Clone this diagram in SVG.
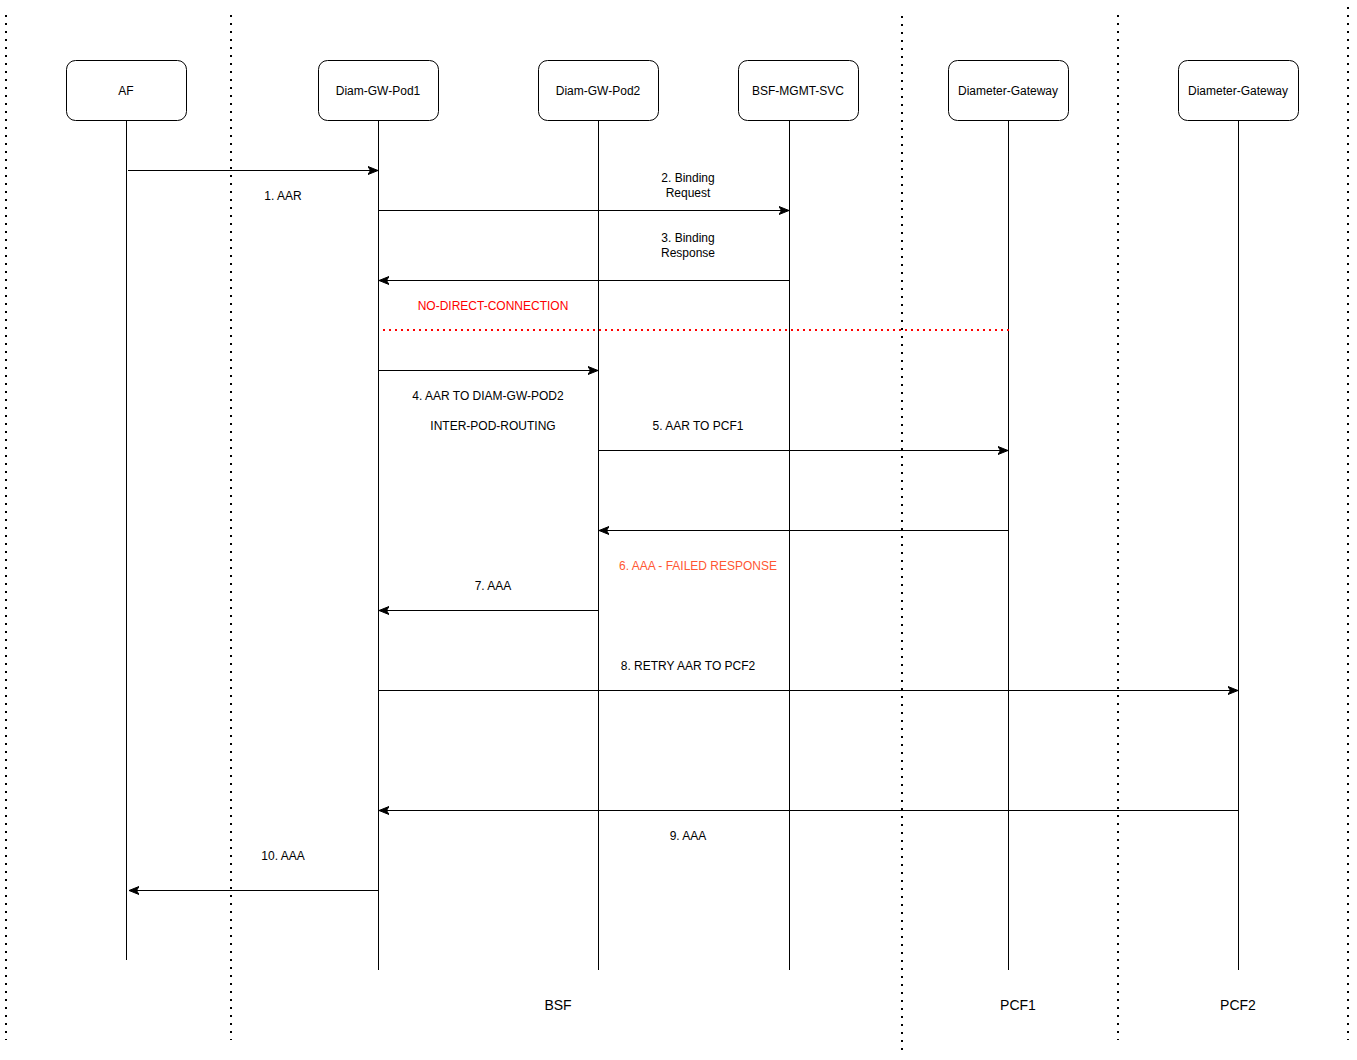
<svg xmlns="http://www.w3.org/2000/svg" width="1357" height="1060" viewBox="0 0 1357 1060">
<style>
  .box{fill:#fff;stroke:#000;stroke-width:1}
  .life{stroke:#000;stroke-width:1;fill:none}
  .sep{stroke:#000;stroke-width:2;stroke-dasharray:2 6;fill:none}
  .msg{stroke:#000;stroke-width:1;fill:none;marker-end:url(#ah)}
  text{font-family:"Liberation Sans",Arial,sans-serif;font-size:12px;fill:#000;text-anchor:middle}
  .big{font-size:14px}
</style>
<defs>
  <marker id="ah" markerUnits="userSpaceOnUse" markerWidth="12" markerHeight="10" viewBox="0 0 12 10" refX="10" refY="5" orient="auto">
    <path d="M0,1 L10,5 L0,9 L2.5,5 Z" fill="#000" stroke="#000" stroke-width="1"/>
  </marker>
</defs>
<rect width="1357" height="1060" fill="#fff"/>
<g id="separators">
  <line class="sep" x1="6" y1="15" x2="6" y2="1040"/>
  <line class="sep" x1="231" y1="15" x2="231" y2="1040"/>
  <line class="sep" x1="902" y1="16" x2="902" y2="1050"/>
  <line class="sep" x1="1118" y1="15" x2="1118" y2="1040"/>
  <line class="sep" x1="1348" y1="7" x2="1348" y2="1040"/>
</g>
<g id="AF">
  <rect class="box" x="66.5" y="60.5" width="120" height="60" rx="9"/>
  <text x="126" y="95">AF</text>
  <line class="life" x1="126.5" y1="121" x2="126.5" y2="960"/>
</g>
<g id="DiamGWPod1">
  <rect class="box" x="318.5" y="60.5" width="120" height="60" rx="9"/>
  <text x="378" y="95">Diam-GW-Pod1</text>
  <line class="life" x1="378.5" y1="121" x2="378.5" y2="970"/>
</g>
<g id="DiamGWPod2">
  <rect class="box" x="538.5" y="60.5" width="120" height="60" rx="9"/>
  <text x="598" y="95">Diam-GW-Pod2</text>
  <line class="life" x1="598.5" y1="121" x2="598.5" y2="970"/>
</g>
<g id="BSFMGMTSVC">
  <rect class="box" x="738.5" y="60.5" width="120" height="60" rx="9"/>
  <text x="798" y="95">BSF-MGMT-SVC</text>
  <line class="life" x1="789.5" y1="121" x2="789.5" y2="970"/>
</g>
<g id="DiameterGateway1">
  <rect class="box" x="948.5" y="60.5" width="120" height="60" rx="9"/>
  <text x="1008" y="95">Diameter-Gateway</text>
  <line class="life" x1="1008.5" y1="121" x2="1008.5" y2="970"/>
</g>
<g id="DiameterGateway2">
  <rect class="box" x="1178.5" y="60.5" width="120" height="60" rx="9"/>
  <text x="1238" y="95">Diameter-Gateway</text>
  <line class="life" x1="1238.5" y1="121" x2="1238.5" y2="970"/>
</g>
<g id="connectors">
  <line class="msg" x1="128" y1="170.5" x2="378" y2="170.5"/>
  <line class="msg" x1="378" y1="210.5" x2="789" y2="210.5"/>
  <line class="msg" x1="789" y1="280.5" x2="379" y2="280.5"/>
  <line class="msg" x1="378" y1="370.5" x2="598" y2="370.5"/>
  <line class="msg" x1="598" y1="450.5" x2="1008" y2="450.5"/>
  <line class="msg" x1="1008" y1="530.5" x2="599" y2="530.5"/>
  <line class="msg" x1="598" y1="610.5" x2="379" y2="610.5"/>
  <line class="msg" x1="378" y1="690.5" x2="1238" y2="690.5"/>
  <line class="msg" x1="1238" y1="810.5" x2="379" y2="810.5"/>
  <line class="msg" x1="378" y1="890.5" x2="129" y2="890.5"/>
  <line x1="383" y1="330" x2="1010" y2="330" stroke="#FF0000" stroke-width="2" stroke-dasharray="2 4"/>
</g>
<g id="labels">
  <text x="283" y="200">1. AAR</text>
  <text x="688" y="182">2. Binding</text>
  <text x="688" y="197">Request</text>
  <text x="688" y="242">3. Binding</text>
  <text x="688" y="257">Response</text>
  <text x="493" y="310" style="fill:#FF0000">NO-DIRECT-CONNECTION</text>
  <text x="488" y="400">4. AAR TO DIAM-GW-POD2</text>
  <text x="493" y="430">INTER-POD-ROUTING</text>
  <text x="698" y="430">5. AAR TO PCF1</text>
  <text x="698" y="570" style="fill:#FF5733">6. AAA - FAILED RESPONSE</text>
  <text x="493" y="590">7. AAA</text>
  <text x="688" y="670">8. RETRY AAR TO PCF2</text>
  <text x="688" y="840">9. AAA</text>
  <text x="283" y="860">10. AAA</text>
  <text class="big" x="558" y="1010">BSF</text>
  <text class="big" x="1018" y="1010">PCF1</text>
  <text class="big" x="1238" y="1010">PCF2</text>
</g>
</svg>
